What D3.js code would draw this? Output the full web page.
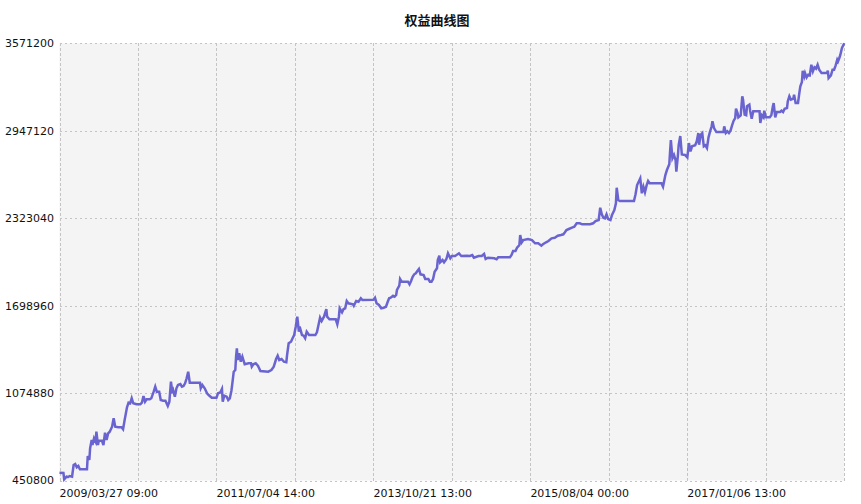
<!DOCTYPE html>
<html><head><meta charset="utf-8">
<script src="https://cdn.jsdelivr.net/npm/d3@7"></script>
<style>body{margin:0;background:#fff}</style>
</head><body><svg id="c" width="861" height="504"></svg>
<script>
const title = "权益曲线图";
const xTickLabels = ["2009/03/27 09:00","2011/07/04 14:00","2013/10/21 13:00","2015/08/04 00:00","2017/01/06 13:00"];
const xTickLabelIdx = [0,200,400,600,800];
const yTicks = [450800,1074880,1698960,2323040,2947120,3571200];
const tradeIdx = [0,5,6,9,11,13,16,18,20,22,24,26,35,36,38,39,41,42,44,46,47,49,50,54,56,58,60,62,64,67,69,71,75,79,81,83,86,88,90,92,94,98,103,105,107,109,111,115,117,120,122,124,127,129,132,135,138,140,142,144,145,147,149,151,154,156,158,160,162,164,166,179,180,182,185,188,190,194,200,202,205,207,208,210,213,215,217,219,220,222,224,225,226,227,229,231,233,236,241,244,245,247,250,253,256,266,270,273,276,278,280,283,286,289,290,292,295,297,299,301,303,305,306,309,311,313,315,318,326,328,330,332,334,337,340,341,344,352,354,356,357,360,362,364,366,368,374,375,378,381,384,386,400,402,404,407,410,413,416,418,420,422,425,427,429,430,433,434,436,444,446,448,450,452,454,456,458,460,464,466,470,472,474,476,478,481,482,484,485,488,490,493,495,498,500,504,509,512,519,523,526,528,534,538,541,543,546,554,557,559,574,576,578,581,583,586,587,589,591,597,602,606,610,614,616,620,623,627,631,635,639,642,644,646,649,653,656,659,663,666,676,680,683,687,689,691,693,695,697,699,702,704,707,709,710,712,714,732,734,736,738,740,742,744,746,748,750,752,767,769,771,772,774,777,778,779,781,783,785,786,788,789,791,793,797,800,802,804,806,810,812,814,815,817,819,821,823,825,827,829,831,832,834,837,846,847,849,851,853,855,857,859,861,862,864,865,868,870,871,873,875,876,879,880,882,884,892,893,895,897,898,900,905,907,909,910,912,914,918,920,922,924,927,928,930,932,935,936,938,941,943,944,946,947,949,950,952,954,956,958,960,962,964,966,968,971,978,979,980,983,985,987,989,991,992,994,995,997,1000];
const equity = [506000,504300,459400,477900,475800,482900,477900,561400,568600,545000,554300,530700,530700,625700,597100,680600,739800,704200,752000,727700,799100,704200,734900,734900,704200,791900,739800,787700,799100,834800,894700,834800,830500,830500,816200,882600,973200,1006100,1001800,1037500,1001800,994600,994600,1006100,1053900,1013200,1030300,1030300,1037500,1084600,1120300,1084600,1084600,1025300,1020300,1020300,982500,1013200,1155900,1073100,1091700,1048900,1108800,1132400,1139500,1120300,1125200,1144500,1180200,1227300,1148800,1148800,1108800,1132400,1108800,1073100,1061000,1041700,1041700,1073100,1080300,1103800,1013200,1056000,1048900,1025300,1037500,1089600,1132400,1227300,1239400,1334400,1394300,1310800,1358600,1298700,1334400,1280100,1287300,1287300,1263000,1280100,1287300,1268000,1232300,1227300,1239400,1263000,1317900,1341500,1310800,1317900,1298700,1294400,1346500,1430000,1441400,1465700,1489200,1548500,1619800,1512800,1548500,1489200,1484200,1465700,1512800,1489200,1489200,1508500,1560600,1612700,1589200,1619800,1674800,1619800,1601300,1601300,1565600,1619800,1679800,1651200,1674800,1679800,1731900,1715500,1708300,1698300,1731900,1726900,1751200,1739000,1741200,1755400,1715500,1703300,1679800,1684100,1691200,1722600,1751200,1755400,1769700,1762600,1774700,1810400,1841100,1888900,1869600,1869600,1851100,1874600,1905300,1922400,1929600,1946000,1960300,1922400,1917500,1888900,1888900,1869600,1869600,1888900,1941000,1965300,2024500,2055200,2008100,2024500,2008100,2031600,2072300,2036600,2053100,2053100,2072300,2053100,2055200,2053100,2060200,2040900,2053100,2053100,2067300,2031600,2040900,2036600,2029500,2043800,2043800,2060200,2088700,2088700,2112300,2131600,2202900,2150800,2167200,2174400,2167200,2143700,2143700,2126600,2136600,2150800,2160100,2179400,2183700,2197900,2202900,2207900,2222200,2238600,2245800,2255000,2262200,2286400,2286400,2279300,2279300,2286400,2302900,2310000,2397800,2350700,2326400,2322100,2350700,2317100,2310000,2345700,2381400,2429200,2540500,2452700,2445600,2445600,2493400,2559800,2583300,2607600,2500500,2547700,2507700,2554800,2588300,2571900,2571900,2547700,2602600,2631200,2666800,2707500,2797400,2880900,2750300,2773900,2738200,2654700,2773900,2845300,2909500,2777500,2773900,2756100,2859500,2798900,2836000,2843100,2871700,2930900,2847400,2918800,2930900,2836000,2843100,2823900,2900200,2943000,2978700,3014400,2966600,2938000,2938000,2978700,2930900,2943000,2930900,2947300,2985900,3018700,3038000,3104300,3073600,3043000,3057200,3192800,3168600,3061500,3057200,3121500,3132900,3090100,3033000,3085800,3085800,3002300,3057200,3043000,3090100,3043000,3043000,3057200,3121500,3145000,3043000,3080800,3080800,3090100,3080800,3104300,3109300,3157200,3192800,3168600,3175700,3204300,3145000,3145000,3228500,3264200,3294900,3375500,3335600,3359100,3328400,3347000,3342700,3418400,3371300,3399800,3389800,3418400,3382700,3359100,3359100,3375500,3323400,3342700,3382700,3382700,3414100,3454100,3442600,3471200,3489700,3537600,3571200];

const svg = d3.select("#c");
const L = 59.5, R = 844.3, T = 43.3, B = 480.5;
const x = d3.scaleLinear().domain([0,1000]).range([L,R]);
const y = d3.scaleLinear().domain([yTicks[0], yTicks[yTicks.length-1]]).range([B,T]);

svg.append("rect").attr("x",L).attr("y",T).attr("width",R-L).attr("height",B-T).attr("fill","#f4f4f4");

const grid = svg.append("g").attr("stroke","#c4c4c4").attr("stroke-width",1).attr("stroke-dasharray","2.5,2.5").attr("shape-rendering","crispEdges");
d3.range(0,1001,100).forEach(v=>{
  grid.append("line").attr("x1",Math.round(x(v))+0.5).attr("x2",Math.round(x(v))+0.5).attr("y1",T).attr("y2",B);
});
yTicks.forEach(v=>{
  grid.append("line").attr("x1",L).attr("x2",R).attr("y1",Math.round(y(v))+0.5).attr("y2",Math.round(y(v))+0.5);
});

const font = "DejaVu Sans, Verdana, sans-serif";
svg.append("g").selectAll("text").data(yTicks).join("text")
  .attr("x",54).attr("y",d=>y(d)).attr("dy","0.36em")
  .attr("text-anchor","end").attr("font-family",font).attr("font-size",11).attr("fill","#111")
  .text(d=>d);

svg.append("g").selectAll("text").data(xTickLabels).join("text")
  .attr("x",(d,i)=>x(xTickLabelIdx[i])).attr("y",497)
  .attr("text-anchor","start").attr("font-family",font).attr("font-size",11).attr("fill","#111")
  .text(d=>d);

svg.append("text").attr("x",437).attr("y",25).attr("text-anchor","middle")
  .attr("font-family","Noto Sans CJK SC, sans-serif").attr("font-weight","bold").attr("font-size",13)
  .attr("fill","#111").text(title);

const pts = tradeIdx.map((t,i)=>[t,equity[i]]);
svg.append("path").datum(pts)
  .attr("fill","none").attr("stroke","#6a64d0").attr("stroke-width",2.5).attr("stroke-linejoin","miter")
  .attr("d", d3.line().x(d=>x(d[0])).y(d=>y(d[1])));
</script></body></html>
